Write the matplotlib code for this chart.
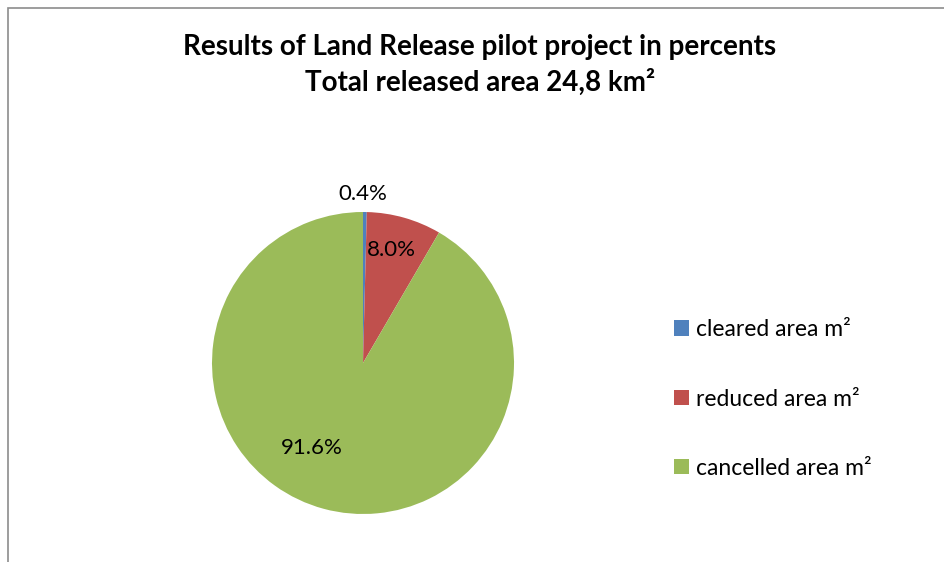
import matplotlib.pyplot as plt
from matplotlib.patches import Rectangle

# data
labels = ['cleared area m²', 'reduced area m²', 'cancelled area m²']
shares = [0.4, 8.0, 91.6]
colors = ['#4F81BD', '#C0504D', '#9BBB59']
# label positions (data units, pie radius = 1), Excel "best fit" style
label_pos = [(0.0, 1.12), (0.19, 0.75), (-0.34, -0.56)]

W, H = 945, 562
plt.rcParams['font.family'] = ['Lato', 'DejaVu Sans']

fig = plt.figure(figsize=(W / 100, H / 100), dpi=100)

# chart frame
fig.patches.append(Rectangle((8 / W, -0.1), 1.2, (H - 8) / H + 0.1,
                             transform=fig.transFigure, fill=False,
                             edgecolor='#8c8c8c', linewidth=1.2))

# pie centred at (363, 363) px with radius 151 px
cx, cy, r = 363, 363, 151
ax = fig.add_axes([(cx - r) / W, (H - cy - r) / H, 2 * r / W, 2 * r / H])
wedges, _ = ax.pie(shares, colors=colors, startangle=90, counterclock=False,
                   radius=1, wedgeprops=dict(linewidth=0))
ax.set_xlim(-1, 1)
ax.set_ylim(-1, 1)
ax.set_aspect('equal')
ax.axis('off')

for v, (x, y) in zip(shares, label_pos):
    ax.text(x, y, f'{v:.1f}%', ha='center', va='center', fontsize=16,
            color='black', clip_on=False)

fig.text(480 / W, 1 - 47 / H, 'Results of Land Release pilot project in percents',
         ha='center', va='center', fontsize=20, fontweight='bold')
fig.text(480 / W, 1 - 82 / H, 'Total released area 24,8 km²',
         ha='center', va='center', fontsize=20, fontweight='bold')

leg = fig.legend(wedges, labels, loc='upper left', bbox_to_anchor=(665 / W, 1 - 310 / H),
                 frameon=False, fontsize=16.5, handlelength=0.65, handleheight=0.65,
                 handletextpad=0.3, labelspacing=2.11, borderaxespad=0)

fig.savefig('out.png', dpi=100)
